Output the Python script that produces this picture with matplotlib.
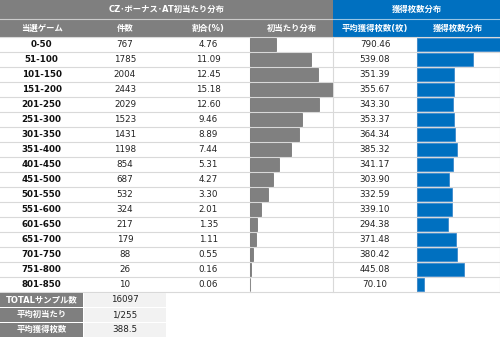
import matplotlib
matplotlib.use("Agg")
import matplotlib.pyplot as plt
from matplotlib.patches import Rectangle

categories = ["0-50", "51-100", "101-150", "151-200", "201-250", "251-300", "301-350",
              "351-400", "401-450", "451-500", "501-550", "551-600", "601-650", "651-700",
              "701-750", "751-800", "801-850"]
counts = [767, 1785, 2004, 2443, 2029, 1523, 1431, 1198, 854, 687, 532, 324, 217, 179, 88, 26, 10]
ratios = [4.76, 11.09, 12.45, 15.18, 12.60, 9.46, 8.89, 7.44, 5.31, 4.27, 3.30, 2.01, 1.35,
          1.11, 0.55, 0.16, 0.06]
avg_medals = [790.46, 539.08, 351.39, 355.67, 343.30, 353.37, 364.34, 385.32, 341.17, 303.90,
              332.59, 339.10, 294.38, 371.48, 380.42, 445.08, 70.10]
summary_labels = ["TOTALサンプル数", "平均初当たり", "平均獲得枚数"]
summary_values = ["16097", "1/255", "388.5"]
col_headers = ["当選ゲーム", "件数", "割合(%)", "初当たり分布", "平均獲得枚数(枚)", "獲得枚数分布"]
group_headers = ["CZ･ボーナス･AT初当たり分布", "獲得枚数分布"]

W, H = 500, 337
fig = plt.figure(figsize=(5.0, 3.37), dpi=100)
ax = fig.add_axes([0, 0, 1, 1])
ax.set_xlim(0, W)
ax.set_ylim(H, 0)
ax.axis("off")

FONT = ["DejaVu Sans", "Noto Sans CJK JP"]
GRAY = "#7f7f7f"
BLUE = "#0070c0"
LINE = "#d9d9d9"

cw = W / 6.0
h1, h2 = 19, 37
rh = 15.0
n = len(categories)
data_bottom = h2 + rh * n

# header rows
ax.add_patch(Rectangle((0, 0), 4 * cw, h1, color=GRAY, lw=0))
ax.add_patch(Rectangle((4 * cw, 0), 2 * cw, h1, color=BLUE, lw=0))
ax.add_patch(Rectangle((0, h1), 4 * cw, h2 - h1, color=GRAY, lw=0))
ax.add_patch(Rectangle((4 * cw, h1), 2 * cw, h2 - h1, color=BLUE, lw=0))
ax.plot([0, W], [h1, h1], color="#ffffff", lw=0.8, alpha=0.6)
ax.text(2 * cw, h1 / 2, group_headers[0], ha="center", va="center", color="white",
        fontsize=6, fontweight="bold", family=FONT)
ax.text(5 * cw, h1 / 2, group_headers[1], ha="center", va="center", color="white",
        fontsize=6, fontweight="bold", family=FONT)
for i, t in enumerate(col_headers):
    ax.text((i + 0.5) * cw, (h1 + h2) / 2, t, ha="center", va="center", color="white",
            fontsize=6, fontweight="bold", family=FONT)

# row lines
for k in range(n + 1):
    y = h2 + rh * k
    ax.plot([0, W], [y, y], color=LINE, lw=0.8, zorder=1)
for x in [3 * cw, 4 * cw, 5 * cw, W - 0.5]:
    ax.plot([x, x], [h2, data_bottom], color=LINE, lw=0.8, zorder=1)

for k, cat in enumerate(categories):
    yc = h2 + rh * (k + 0.5)
    ax.text(0.5 * cw, yc, cat, ha="center", va="center", fontsize=6.3, fontweight="bold",
            color="#111111", family=FONT)
    ax.text(1.5 * cw, yc, f"{counts[k]}", ha="center", va="center", fontsize=6.3,
            color="#222222", family=FONT)
    ax.text(2.5 * cw, yc, f"{ratios[k]:.2f}", ha="center", va="center", fontsize=6.3,
            color="#222222", family=FONT)
    ax.text(4.5 * cw, yc, f"{avg_medals[k]:.2f}", ha="center", va="center", fontsize=6.3,
            color="#222222", family=FONT)

# summary
for j, (lab, val) in enumerate(zip(summary_labels, summary_values)):
    y0 = data_bottom + rh * j
    ax.add_patch(Rectangle((0, y0 + 0.5), cw - 0.5, rh - 1, color=GRAY, lw=0))
    ax.add_patch(Rectangle((cw + 0.5, y0 + 0.5), cw - 1, rh - 1, color="#f2f2f2", lw=0))
    ax.text(0.5 * cw, y0 + rh / 2, lab, ha="center", va="center", color="white",
            fontsize=6, fontweight="bold", family=FONT)
    ax.text(1.5 * cw, y0 + rh / 2, val, ha="center", va="center", color="#222222",
            fontsize=6.3, family=FONT)

# bar columns
def bar_axes(x0, values, color, edge):
    bax = fig.add_axes([x0 / W, 1 - data_bottom / H, cw / W, (data_bottom - h2) / H])
    bax.barh(range(len(values)), values, height=0.86, color=color, edgecolor=edge, lw=0.5)
    bax.set_xlim(0, max(values))
    bax.set_ylim(len(values) - 0.5, -0.5)
    bax.axis("off")
    bax.patch.set_alpha(0)

bar_axes(3 * cw, ratios, "#808080", "#6a6a6a")
bar_axes(5 * cw, avg_medals, BLUE, "#2f80c8")

fig.savefig("out.png", dpi=100)
